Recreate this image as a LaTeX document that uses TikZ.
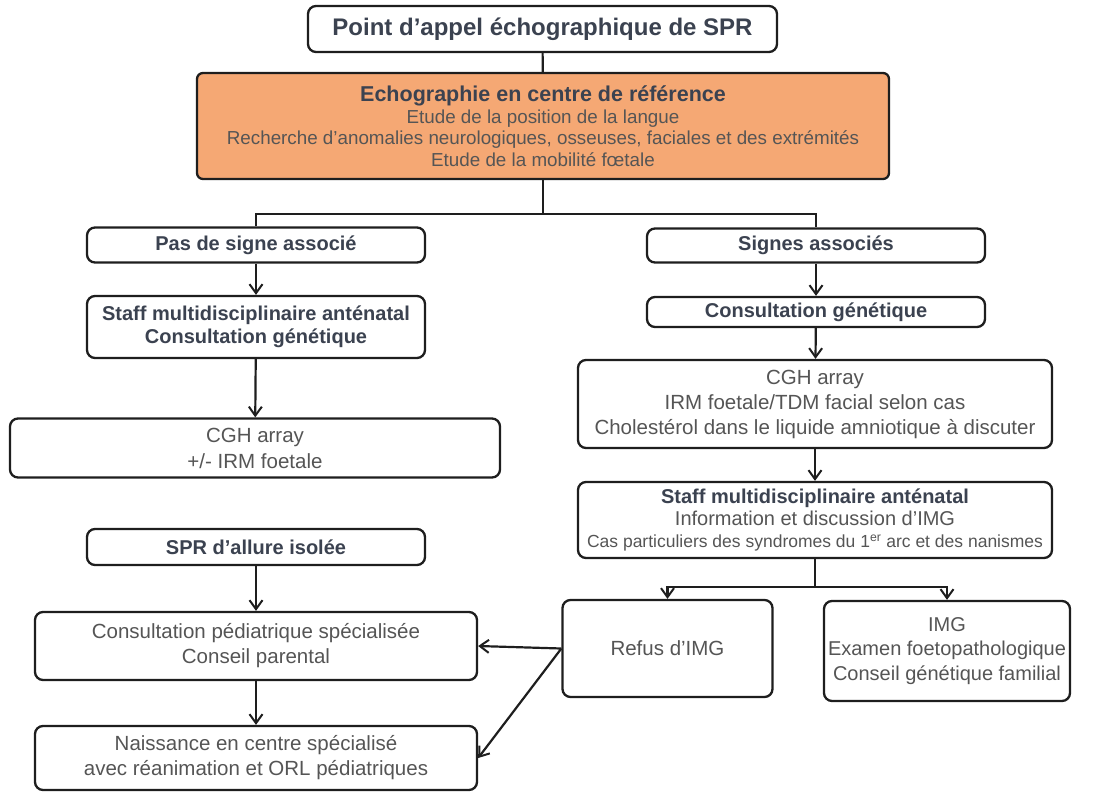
\documentclass[tikz,border=0pt]{standalone}
\usepackage{fontspec}
\setmainfont{Liberation Sans}
\usetikzlibrary{arrows.meta}
\definecolor{boldtxt}{HTML}{3B4250}
\definecolor{normtxt}{HTML}{555555}
\definecolor{orangefill}{HTML}{F5A874}
\definecolor{edge}{HTML}{1E1E1E}

\tikzset{
  box/.style={draw=edge, line width=2.3pt, rounded corners=8pt, fill=white,
    align=center, inner sep=0pt, text=normtxt},
  hd/.style={font=\bfseries\fontsize{20}{23}\selectfont, text=boldtxt},
  body/.style={font=\fontsize{20.5}{25}\selectfont},
  arr/.style={-{Straight Barb[length=9pt,width=13pt,line width=2pt]},
    line width=2.2pt, draw=edge},
  ln/.style={line width=2.2pt, draw=edge},
}

\begin{document}
\begin{tikzpicture}[x=1pt,y=-1pt]
\useasboundingbox (0,0) rectangle (1099,792);

% top of the chart
\node[box, minimum width=469pt, minimum height=46pt, text=boldtxt,
  font=\bfseries\fontsize{24}{28}\selectfont] (top) at (542.5,29)
  {Point d’appel échographique de SPR};
\node[box, fill=orangefill, rounded corners=6pt, minimum width=692pt, minimum height=106pt,
  font=\fontsize{18.8}{21.5}\selectfont] (echo) at (543,126)
  {{\bfseries\color{boldtxt}\fontsize{21.5}{21.5}\selectfont Echographie en centre de référence}\\
   Etude de la position de la langue\\
   Recherche d’anomalies neurologiques, osseuses, faciales et des extrémités\\
   Etude de la mobilité fœtale};

% left branch
\node[box, hd, minimum width=338pt, minimum height=35pt] (pas) at (256,245)
  {Pas de signe associé};
\node[box, hd, minimum width=338pt, minimum height=62pt] (staffL) at (256,327)
  {Staff multidisciplinaire anténatal\\Consultation génétique};
\node[box, body, minimum width=490pt, minimum height=59pt, font=\fontsize{20.5}{26}\selectfont] (cghL) at (255,448)
  {CGH array\\+/- IRM foetale};
\node[box, hd, minimum width=338pt, minimum height=36pt] (spr) at (256,547)
  {SPR d’allure isolée};
\node[box, body, minimum width=442pt, minimum height=68pt] (consp) at (256,646)
  {Consultation pédiatrique spécialisée\\Conseil parental};
\node[box, body, minimum width=442pt, minimum height=64pt] (naiss) at (256,758)
  {Naissance en centre spécialisé\\avec réanimation et ORL pédiatriques};

% right branch
\node[box, hd, minimum width=338pt, minimum height=34pt] (signes) at (816,245.5)
  {Signes associés};
\node[box, hd, minimum width=338pt, minimum height=30pt] (consg) at (816,312)
  {Consultation génétique};
\node[box, body, minimum width=474pt, minimum height=88pt] (cghR) at (815,404)
  {CGH array\\IRM foetale/TDM facial selon cas\\Cholestérol dans le liquide amniotique à discuter};
\node[box, minimum width=474pt, minimum height=76pt, font=\fontsize{20}{22}\selectfont] (staffR) at (815,520)
  {{\bfseries\color{boldtxt}Staff multidisciplinaire anténatal}\\
   Information et discussion d’IMG\\
   {\fontsize{17.5}{22}\selectfont Cas particuliers des syndromes du 1\textsuperscript{er} arc et des nanismes}};
\node[box, body, minimum width=210pt, minimum height=97pt] (refus) at (667.5,648.5)
  {Refus d’IMG};
\node[box, body, minimum width=246pt, minimum height=100pt, font=\fontsize{20}{24.5}\selectfont] (img) at (947,651)
  {IMG\\Examen foetopathologique\\Conseil génétique familial};

% connectors
\draw[ln] (top) -- (echo);
\draw[ln] (echo.south) -- ++(0,34) coordinate (split);
\draw[ln] (pas.north) |- (split) -| (signes.north);
\draw[arr] (pas) -- (staffL);
\draw[arr] (staffL) -- (cghL);
\draw[arr] (spr) -- (consp);
\draw[arr] (consp) -- (naiss);
\draw[arr] (signes) -- (consg);
\draw[arr] (consg) -- (cghR);
\draw[arr] (cghR) -- (staffR);
\draw[ln] (staffR.south) -- ++(0,28) coordinate (fork);
\draw[arr] (fork) -| (refus.north);
\draw[arr] (fork) -| (img.north);
\draw[arr] (refus.west) -- (consp.east);
\draw[arr] (refus.west) -- (naiss.east);
\end{tikzpicture}
\end{document}
